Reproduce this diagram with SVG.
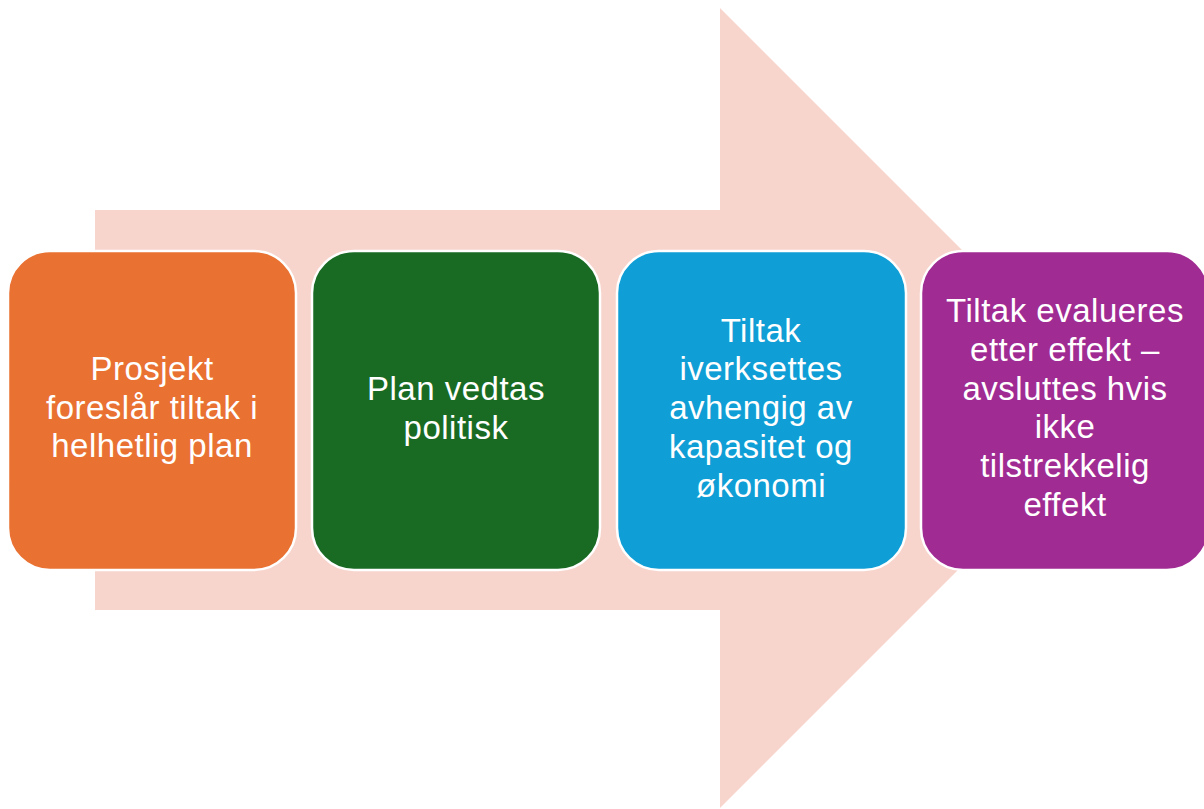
<svg xmlns="http://www.w3.org/2000/svg" width="1204" height="809" viewBox="0 0 1204 809">
<style>
.box{stroke:#ffffff;stroke-width:2.5}
.t{font-family:"Liberation Sans",Arial,sans-serif;font-size:33px;letter-spacing:0.5px;fill:#ffffff;text-anchor:middle}
</style>
<rect width="1204" height="809" fill="#ffffff"/>
<g id="arrow">
<polygon points="95,210 720,210 720,8 1120,408 720,808 720,610 95,610" fill="#f7d5cc"/>
</g>
<g id="node1">
<rect class="box" x="8" y="251" width="288" height="319" rx="42" fill="#e97132"/>
<text class="t"><tspan x="152" y="380">Prosjekt</tspan><tspan x="152" y="419">foreslår tiltak i</tspan><tspan x="152" y="457">helhetlig plan</tspan></text>
</g>
<g id="node2">
<rect class="box" x="312" y="251" width="288" height="319" rx="42" fill="#196b24"/>
<text class="t"><tspan x="456" y="400">Plan vedtas</tspan><tspan x="456" y="439">politisk</tspan></text>
</g>
<g id="node3">
<rect class="box" x="617" y="251" width="289" height="319" rx="42" fill="#0f9ed5"/>
<text class="t"><tspan x="761" y="342">Tiltak</tspan><tspan x="761" y="380">iverksettes</tspan><tspan x="761" y="419">avhengig av</tspan><tspan x="761" y="458">kapasitet og</tspan><tspan x="761" y="497">økonomi</tspan></text>
</g>
<g id="node4">
<rect class="box" x="921" y="251" width="288" height="319" rx="42" fill="#a02b93"/>
<text class="t"><tspan x="1065" y="322">Tiltak evalueres</tspan><tspan x="1065" y="361">etter effekt –</tspan><tspan x="1065" y="400">avsluttes hvis</tspan><tspan x="1065" y="438">ikke</tspan><tspan x="1065" y="477">tilstrekkelig</tspan><tspan x="1065" y="516">effekt</tspan></text>
</g>
<g id="connectors"></g>
</svg>
